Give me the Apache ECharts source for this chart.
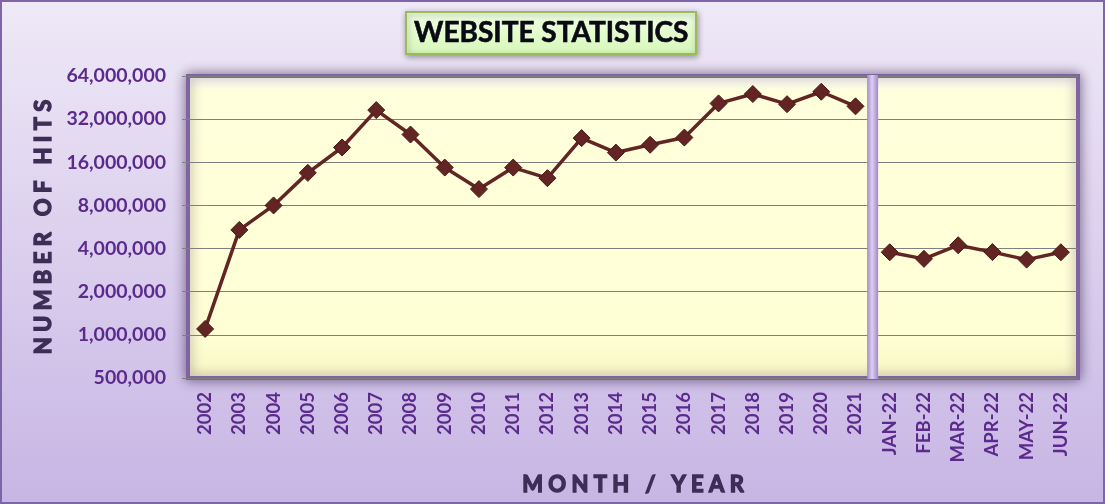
<!DOCTYPE html>
<html>
<head>
<meta charset="utf-8">
<script src="https://cdn.jsdelivr.net/npm/echarts@6/dist/echarts.min.js"></script>
<style>
  html, body { margin: 0; padding: 0; }
  #wrap { position: relative; width: 1105px; height: 504px; }
  #chart { position: absolute; left: 0; top: 0; width: 1105px; height: 504px; }
  #frame { position: absolute; left: 0; top: 0; width: 1105px; height: 504px; box-sizing: border-box; border: 2px solid #7e65a8; pointer-events: none; }
</style>
</head>
<body>
<div id="wrap"><div id="chart"></div><div id="frame"></div></div>
<script>
// ---- data ----
const years = ['2002','2003','2004','2005','2006','2007','2008','2009','2010','2011',
               '2012','2013','2014','2015','2016','2017','2018','2019','2020','2021'];
const yearHits = [1100000, 5400000, 8000000, 13500000, 20300000, 37000000, 25000000, 14700000, 10400000, 14700000,
                  12400000, 23600000, 18700000, 21200000, 23800000, 41200000, 47900000, 40700000, 49700000, 39300000];
const months = ['JAN-22','FEB-22','MAR-22','APR-22','MAY-22','JUN-22'];
const monthHits = [3770000, 3390000, 4220000, 3780000, 3350000, 3770000];
const yTicks = [500000, 1000000, 2000000, 4000000, 8000000, 16000000, 32000000, 64000000];

// ---- build ----
const categories = years.concat(months);
const toAxis = v => Math.log2(v / yTicks[0]);   // log-2 axis space (tick k = yTicks[k])
const yearSeries = yearHits.map(toAxis).concat(months.map(() => null));
const monthSeries = years.map(() => null).concat(monthHits.map(toAxis));

const labelColor = '#5b2a8c';
const lineColor = '#632523';
const nameColor = '#3e2d56';

const chart = echarts.init(document.getElementById('chart'));
const lineStyle = { color: lineColor, width: 3.5 };
const itemStyle = { color: lineColor, borderColor: '#4a1716', borderWidth: 1 };
const nameStyle = { fontFamily: 'Lato', fontWeight: 'bold', fontSize: 22, color: nameColor,
                    textBorderColor: nameColor, textBorderWidth: 1.4 };

chart.setOption({
  animation: false,
  backgroundColor: new echarts.graphic.LinearGradient(0, 0, 0, 1, [
    { offset: 0, color: '#efe9f7' },
    { offset: 1, color: '#c7b5e4' }
  ]),
  title: {
    text: 'WEBSITE STATISTICS',
    left: 406, top: 12,
    padding: [7, 8, 7, 8],
    backgroundColor: new echarts.graphic.LinearGradient(0, 0, 0, 1, [
      { offset: 0, color: '#f1ffe4' },
      { offset: 1, color: '#d6f7b8' }
    ]),
    borderColor: '#9bbb59', borderWidth: 2,
    shadowBlur: 6, shadowColor: 'rgba(0,0,0,0.35)', shadowOffsetX: 1, shadowOffsetY: 2,
    textStyle: { fontFamily: 'Lato', fontWeight: 'bold', fontSize: 28, color: '#0a0a14',
                 textBorderColor: '#0a0a14', textBorderWidth: 0.6 }
  },
  grid: {
    left: 188, right: 27, top: 76, bottom: 126,
    show: true,
    backgroundColor: new echarts.graphic.LinearGradient(0, 0, 0, 1, [
      { offset: 0, color: '#ffffff' },
      { offset: 0.06, color: '#ffffdc' },
      { offset: 0.85, color: '#ffffd6' },
      { offset: 1, color: '#f9f6c4' }
    ]),
    borderColor: '#8064a2', borderWidth: 4,
    shadowBlur: 12, shadowColor: 'rgba(50,30,70,0.55)'
  },
  xAxis: {
    type: 'category',
    data: categories,
    boundaryGap: true,
    axisLine: { show: false },
    axisTick: { show: false },
    axisLabel: {
      rotate: 90, margin: 14, color: labelColor,
      fontFamily: 'Lato', fontWeight: 'bold', fontSize: 18.5, interval: 0
    },
    name: 'M O N T H   /   Y E A R',
    nameLocation: 'middle', nameGap: 96,
    nameTextStyle: nameStyle
  },
  yAxis: {
    type: 'value',
    min: 0, max: yTicks.length - 1, interval: 1,
    axisLine: { show: false },
    axisTick: { show: true, length: 6, lineStyle: { color: '#808080' } },
    splitLine: { show: true, lineStyle: { color: '#7f7f7f', width: 1 } },
    axisLabel: {
      margin: 22, color: labelColor,
      fontFamily: 'Lato', fontWeight: 'bold', fontSize: 19.5,
      formatter: v => yTicks[Math.round(v)].toLocaleString('en-US')
    },
    name: 'N U M B E R   O F   H I T S',
    nameLocation: 'middle', nameGap: 131,
    nameTextStyle: nameStyle
  },
  series: [
    { type: 'line', data: yearSeries, symbol: 'diamond', symbolSize: 17, lineStyle, itemStyle, z: 5 },
    { type: 'line', data: monthSeries, symbol: 'diamond', symbolSize: 17, lineStyle, itemStyle, z: 5 }
  ]
});

// separator bar between the yearly and monthly sections, placed via the axes
const xa = chart.convertToPixel({ xAxisIndex: 0 }, years[years.length - 1]);
const xb = chart.convertToPixel({ xAxisIndex: 0 }, months[0]);
const yTop = chart.convertToPixel({ yAxisIndex: 0 }, yTicks.length - 1);
const yBot = chart.convertToPixel({ yAxisIndex: 0 }, 0);
const sepX = (xa + xb) / 2;
chart.setOption({
  graphic: [{
    type: 'rect', z: 3,
    shape: { x: sepX - 5.5, y: yTop - 1, width: 11, height: yBot - yTop + 2 },
    style: {
      fill: new echarts.graphic.LinearGradient(0, 0, 1, 0, [
        { offset: 0, color: '#a588cf' },
        { offset: 0.45, color: '#dcd0f0' },
        { offset: 1, color: '#a386cc' }
      ])
    }
  }]
});
</script>
</body>
</html>
